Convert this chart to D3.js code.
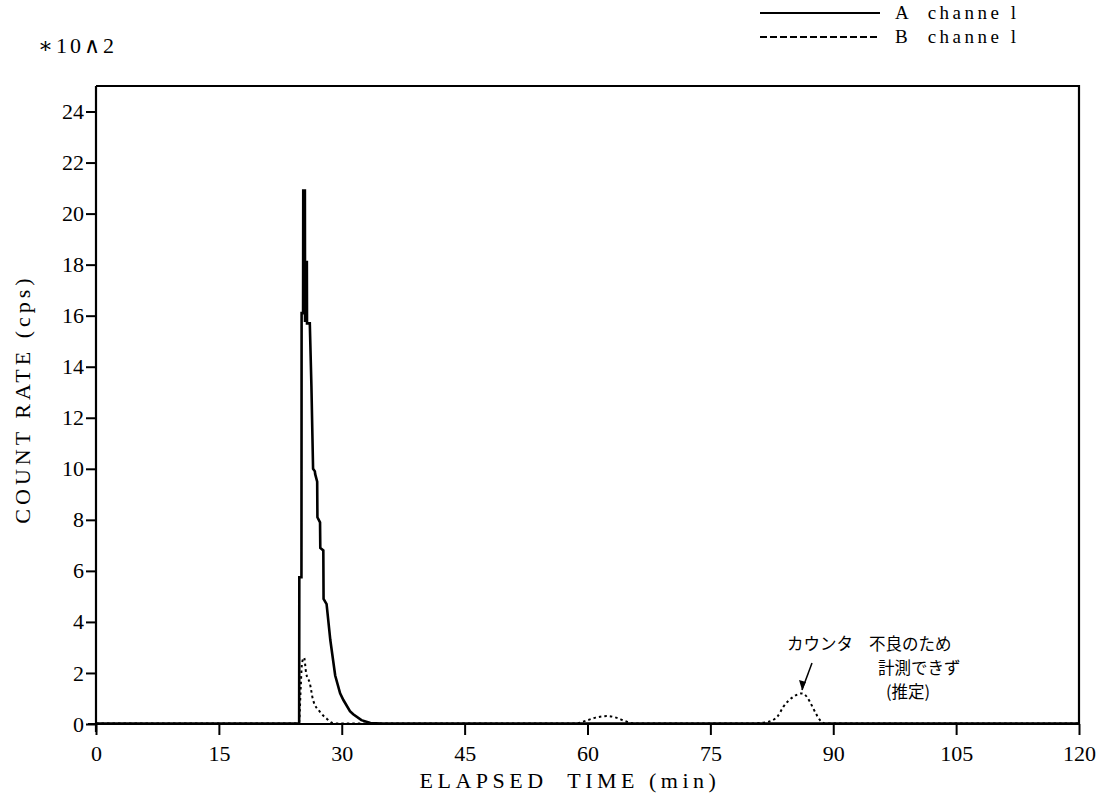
<!DOCTYPE html>
<html>
<head>
<meta charset="utf-8">
<script src="https://cdn.jsdelivr.net/npm/d3@7"></script>
<style>
  html, body { margin: 0; padding: 0; background: #fff; }
  svg { display: block; }
</style>
</head>
<body>
<svg id="chart" width="1105" height="811"></svg>
<script>
// Elapsed time (min) and count rate (x100 cps) for each channel
const timeA = [0, 24.8, 24.82, 25.08, 25.1, 25.28, 25.3, 25.5, 25.52, 25.62, 25.64, 25.74, 25.76,
               26.1, 26.3, 26.5, 26.72, 26.75, 27.0, 27.03, 27.35, 27.38, 27.75, 27.78, 28.15,
               28.6, 29.2, 29.8, 30.2, 31.0, 31.4, 32.4, 33.5, 34.9, 120];
const rateA = [0.02, 0.02, 5.75, 5.75, 16.1, 16.1, 20.9, 20.9, 15.8, 15.8, 18.1, 18.1, 15.7,
               15.7, 13.2, 10.0, 9.9, 9.8, 9.5, 8.1, 7.9, 6.9, 6.8, 4.9, 4.7,
               3.3, 1.9, 1.2, 0.94, 0.5, 0.38, 0.15, 0.04, 0.02, 0.02];

const timeB = [0, 24.7, 24.8, 25.0, 25.15, 25.4, 25.65, 26.1, 26.5, 27.35, 28.2, 28.9, 29.5,
               58.5, 60.0, 61.0, 62.4, 63.5, 64.5, 65.5, 66.0,
               80.0, 82.0, 83.2, 83.9, 85.1, 86.2, 88.7, 89.0, 120];
const rateB = [0.02, 0.02, 0.1, 1.5, 2.4, 2.6, 2.0, 1.6, 0.94, 0.47, 0.2, 0.04, 0.02,
               0.02, 0.15, 0.25, 0.31, 0.25, 0.12, 0.03, 0.02,
               0.02, 0.08, 0.3, 0.67, 1.06, 1.2, 0.06, 0.02, 0.02];

const xTicks = [0, 15, 30, 45, 60, 75, 90, 105, 120];
const yTicks = [0, 2, 4, 6, 8, 10, 12, 14, 16, 18, 20, 22, 24];

const seriesNames = ["A  channe l", "B  channe l"];
const noteParts = ["カウンタ", "不良のため", "計測できず", "(推定)"];

const SERIF = '"Liberation Serif", "Times New Roman", Tinos, Times, "DejaVu Serif", serif';
const JP = '"Noto Sans CJK JP", "Noto Sans CJK SC", sans-serif';

const svg = d3.select("#chart");

const x = d3.scaleLinear().domain([0, 120]).range([96, 1079]);
const y = d3.scaleLinear().domain([0, 25]).range([724, 86]);

const fontTick = 22;

// frame: top and right edges
svg.append("path")
  .attr("d", `M${x(0)},${y(25)} H${x(120)} V${y(0)}`)
  .attr("fill", "none").attr("stroke", "#000").attr("stroke-width", 2.2);

// left axis
const gy = svg.append("g").attr("transform", `translate(${x(0)},0)`)
  .call(d3.axisLeft(y).tickValues(yTicks).tickSize(10).tickPadding(2).tickSizeOuter(0));
gy.select(".domain").attr("stroke-width", 2.2).attr("d", `M0,${y(0) + 8}V${y(25)}`);
gy.selectAll(".tick line").attr("stroke-width", 2);
gy.selectAll(".tick text").style("font-family", SERIF).style("font-size", fontTick + "px")
  .attr("fill", "#000");

// bottom axis
const gx = svg.append("g").attr("transform", `translate(0,${y(0)})`)
  .call(d3.axisBottom(x).tickValues(xTicks).tickSize(11).tickPadding(10).tickSizeOuter(0));
gx.select(".domain").attr("stroke-width", 2.2).attr("d", `M${x(0) - 8},0H${x(120)}`);
gx.selectAll(".tick line").attr("stroke-width", 2);
gx.selectAll(".tick text").style("font-family", SERIF).style("font-size", fontTick + "px")
  .attr("fill", "#000");

// data lines
const ptsA = timeA.map((t, i) => [t, rateA[i]]);
const ptsB = timeB.map((t, i) => [t, rateB[i]]);
const line = d3.line().x(d => x(d[0])).y(d => y(d[1]));
const lineB = d3.line().x(d => x(d[0])).y(d => y(d[1])).curve(d3.curveMonotoneX);

svg.append("path").datum(ptsB).attr("d", lineB)
  .attr("fill", "none").attr("stroke", "#000").attr("stroke-width", 2)
  .attr("stroke-dasharray", "2.5,3");

svg.append("path").datum(ptsA).attr("d", line)
  .attr("fill", "none").attr("stroke", "#000").attr("stroke-width", 2.6)
  .attr("stroke-linejoin", "miter");

// axis titles
svg.append("text")
  .attr("x", 38).attr("y", 53)
  .style("font-family", SERIF).style("font-size", "22px").style("letter-spacing", "3px")
  .text("∗10∧2");

svg.append("text")
  .attr("transform", `translate(30,${(y(0) + y(25)) / 2 - 6}) rotate(-90)`)
  .attr("text-anchor", "middle")
  .style("font-family", SERIF).style("font-size", "22px").style("letter-spacing", "4px")
  .text("COUNT RATE (cps)");

svg.append("text")
  .attr("x", 570).attr("y", 788).attr("text-anchor", "middle")
  .style("font-family", SERIF).style("font-size", "22px").style("letter-spacing", "4.5px")
  .style("white-space", "pre")
  .text("ELAPSED  TIME (min)");

// legend
const legend = svg.append("g");
seriesNames.forEach((name, i) => {
  const ly = 13 + i * 24;
  legend.append("line").attr("x1", 760).attr("x2", 880).attr("y1", ly).attr("y2", ly)
    .attr("stroke", "#000").attr("stroke-width", 2)
    .attr("stroke-dasharray", i === 0 ? null : "7,3");
  legend.append("text")
    .attr("x", 895).attr("y", ly + 6)
    .style("font-family", SERIF).style("font-size", "19px").style("letter-spacing", "3.5px")
    .style("white-space", "pre")
    .text(name);
});

// annotation for the estimated B channel bump
const note = svg.append("g");
const notePos = [[787, 650], [869, 650], [878, 674], [886, 698]];
noteParts.forEach((s, i) => {
  note.append("text")
    .attr("x", notePos[i][0]).attr("y", notePos[i][1])
    .style("font-family", JP).style("font-size", "16.5px")
    .text(s);
});
const ax1 = [812, 663], ax2 = [802, 690];
note.append("line").attr("x1", ax1[0]).attr("y1", ax1[1]).attr("x2", ax2[0]).attr("y2", ax2[1])
  .attr("stroke", "#000").attr("stroke-width", 1.5);
note.append("path")
  .attr("d", `M${ax2[0]},${ax2[1]} L${ax2[0] - 3},${ax2[1] - 10} L${ax2[0] + 4},${ax2[1] - 8} Z`)
  .attr("fill", "#000");
</script>
</body>
</html>
